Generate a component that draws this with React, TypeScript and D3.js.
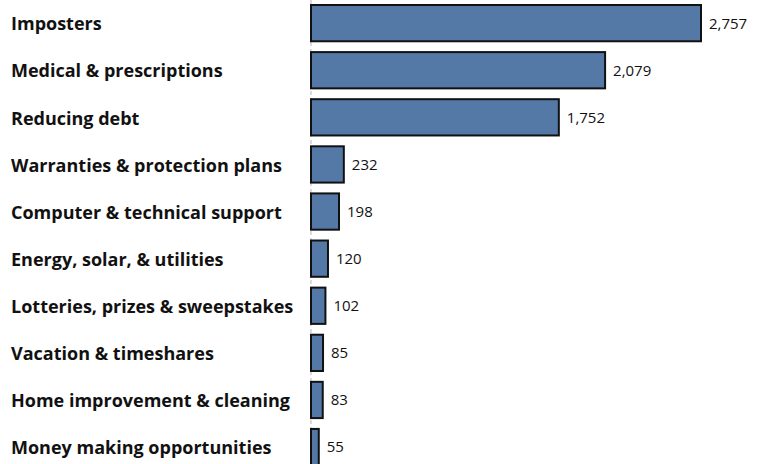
import React from "react";
import * as d3 from "d3";

const categories = [
  "Imposters",
  "Medical & prescriptions",
  "Reducing debt",
  "Warranties & protection plans",
  "Computer & technical support",
  "Energy, solar, & utilities",
  "Lotteries, prizes & sweepstakes",
  "Vacation & timeshares",
  "Home improvement & cleaning",
  "Money making opportunities",
];
const values = [2757, 2079, 1752, 232, 198, 120, 102, 85, 83, 55];

const W = 758;
const H = 464;
const FONT = "'Open Sans', sans-serif";

export default function App() {
  const x = d3.scaleLinear().domain([0, 2757]).range([311, 701]);
  const y = d3
    .scaleBand<string>()
    .domain(categories)
    .range([5, 465.2])
    .paddingInner(0.23)
    .paddingOuter(0);
  const fmt = d3.format(",");

  return (
    <svg
      width={W}
      height={H}
      style={{ position: "absolute", left: 0, top: 0, background: "#fff" }}
    >
      <line
        x1={x(0)}
        x2={x(0)}
        y1={0}
        y2={H}
        stroke="#d0d0d0"
        strokeWidth={1.5}
        strokeDasharray="4 3"
      />
      {categories.map((c, i) => {
        const y0 = y(c)!;
        const bw = y.bandwidth();
        return (
          <g key={c}>
            <rect
              x={x(0)}
              y={y0}
              width={x(values[i]) - x(0)}
              height={bw}
              fill="#5479a6"
              stroke="#111"
              strokeWidth={2}
            />
            <text
              x={11}
              y={y0 + bw / 2}
              dy="0.4em"
              fontFamily={FONT}
              fontWeight={700}
              fontSize={18}
              fill="#111"
            >
              {c}
            </text>
            <text
              x={x(values[i]) + 8}
              y={y0 + bw / 2}
              dy="0.36em"
              fontFamily={FONT}
              fontSize={15}
              fill="#111"
            >
              {fmt(values[i])}
            </text>
          </g>
        );
      })}
    </svg>
  );
}
